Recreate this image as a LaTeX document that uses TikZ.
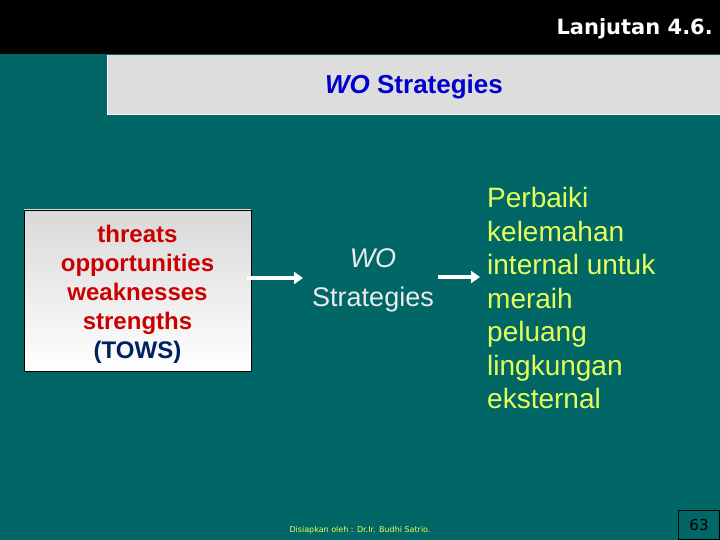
\documentclass[tikz,border=0pt]{standalone}
\usepackage{fontspec}
\setmainfont{Liberation Sans}
\newfontfamily\verdanafont{DejaVu Sans}
\usetikzlibrary{arrows.meta, positioning}

\definecolor{slidebg}{RGB}{0,102,102}
\definecolor{bannergray}{RGB}{221,221,221}
\definecolor{titleblue}{RGB}{0,0,204}
\definecolor{towsred}{RGB}{204,0,0}
\definecolor{towsnavy}{RGB}{0,32,96}
\definecolor{noteyellow}{RGB}{230,255,90}
\definecolor{softwhite}{RGB}{235,235,235}

\tikzset{
  whitearrow/.style={draw=white, line width=4pt,
    -{Triangle[length=9pt,width=12pt]}},
  towsbox/.style={draw=black, line width=0.8pt, top color=gray!30,
    bottom color=white, minimum width=227pt, minimum height=161pt,
    inner sep=0pt},
  towstext/.style={align=center, inner sep=0pt, text=towsred,
    font=\bfseries\fontsize{24}{29}\selectfont},
  notetext/.style={text=noteyellow, align=left, inner sep=0pt,
    font=\fontsize{28}{33.5}\selectfont}
}

\begin{document}
\begin{tikzpicture}[x=1pt, y=-1pt]
      % slide background
      \fill[color=slidebg] (0,0) rectangle (720,540);
      \useasboundingbox (0,0) rectangle (720,540);
      \fill[color=black] (0,0) rectangle (720,54);
      \fill[color=bannergray] (107,55) rectangle (720,114);
      \draw[white, line width=1.2pt] (107.5,55) -- (107.5,114.5) -- (720,114.5);

      \node[anchor=east, text=white, inner sep=0pt,
            font=\verdanafont\bfseries\fontsize{21}{25}\selectfont]
            (header) at (713,29) {Lanjutan 4.6.};
      \node[text=titleblue, inner sep=0pt,
            font=\bfseries\fontsize{26}{30}\selectfont]
            (title) at (414,87) {\textit{WO} Strategies};

      % TOWS box
      \node[towsbox] (tows) at (137.5,290.5) {};
      \node[towstext] (towslist) at (137.5,294.5) {%
        threats\\opportunities\\weaknesses\\strengths\\%
        {\color{towsnavy}(TOWS)}};

      \node[text=softwhite, align=center, inner sep=0pt,
            font=\fontsize{27}{39}\selectfont]
            (wo) at (373,280) {\textit{WO}\\Strategies};

      \node[notetext, anchor=west] (note) at (487,298) {%
        Perbaiki\\kelemahan\\internal untuk\\meraih\\peluang\\%
        lingkungan\\eksternal};

      \draw[whitearrow] ([xshift=-4pt,yshift=2pt]tows.east |- wo.center)
            -- ([xshift=-9pt,yshift=2pt]wo.west);
      \draw[whitearrow] ([xshift=4pt,yshift=3pt]wo.east)
            -- ([xshift=-7pt,yshift=3pt]wo.east -| note.west);

      % footer
      \node[text=noteyellow, inner sep=0pt,
            font=\verdanafont\fontsize{8}{9}\selectfont]
            (credit) at (360,530.5) {Disiapkan oleh : Dr.Ir. Budhi Satrio.};
      \draw[black, line width=0.8pt] (678,510.5) rectangle (719.5,539.5);
      \node[text=black, inner sep=0pt,
            font=\verdanafont\fontsize{15}{18}\selectfont]
            (pagenum) at (699,525) {63};
\end{tikzpicture}
\end{document}
